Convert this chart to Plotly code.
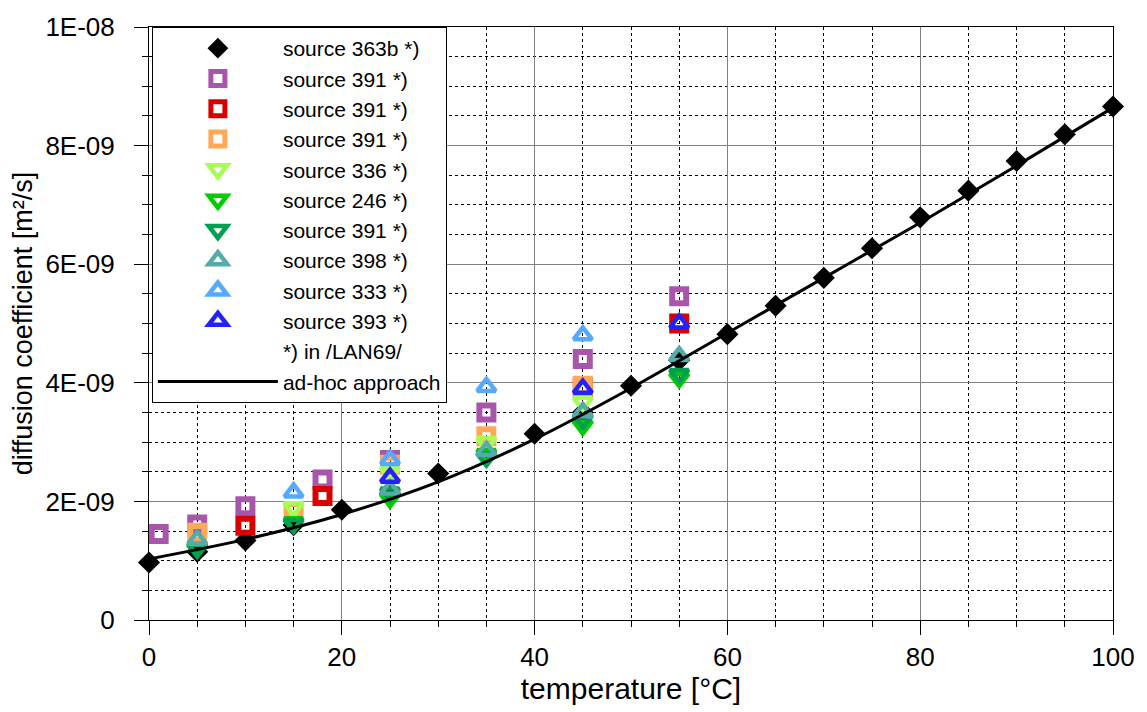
import plotly.graph_objects as go

# temperatures [°C] and diffusion coefficients in units of 1E-09 m²/s
t_363b = [0, 5, 10, 15, 20, 25, 30, 35, 40, 45, 50, 55, 60, 65, 70, 75, 80, 85, 90, 95, 100]
d_363b = [0.97, 1.15, 1.34, 1.60, 1.86, 2.13, 2.47, 2.80, 3.14, 3.50, 3.95, 4.38, 4.82,
          5.30, 5.77, 6.27, 6.79, 7.24, 7.74, 8.19, 8.66]

t_391a = [1, 5, 10, 18, 25, 35, 45, 55]
d_391a = [1.45, 1.61, 1.92, 2.37, 2.70, 3.50, 4.40, 5.46]

t_391b = [10, 18, 45, 55]
d_391b = [1.59, 2.09, 3.92, 5.00]

t_391c = [5, 15, 25, 35, 45]
d_391c = [1.47, 1.84, 2.62, 3.10, 3.95]

t_336 = [15, 25, 35, 45]
d_336 = [1.90, 2.50, 3.00, 3.68]

t_246 = [5, 15, 25, 35, 45, 55]
d_246 = [1.22, 1.65, 2.05, 2.80, 3.28, 4.08]

t_391d = [5, 15, 25, 35, 45, 55]
d_391d = [1.20, 1.62, 2.15, 2.74, 3.38, 4.15]

t_398 = [5, 25, 35, 45, 55]
d_398 = [1.35, 2.20, 2.85, 3.50, 4.45]

t_333 = [15, 25, 35, 45]
d_333 = [2.15, 2.70, 3.93, 4.80]

t_393 = [25, 45, 55]
d_393 = [2.40, 3.90, 5.00]

t_adhoc = [0, 10, 20, 30, 40, 50, 60, 70, 80, 90, 100]
d_adhoc = [1.03, 1.36, 1.78, 2.33, 3.05, 3.91, 4.84, 5.77, 6.70, 7.66, 8.64]

y_tickvals = [0, 2, 4, 6, 8, 10]
y_ticktext = ["0", "2E-09", "4E-09", "6E-09", "8E-09", "1E-08"]
x_tickvals = [0, 20, 40, 60, 80, 100]

FONT = "Arial, Liberation Sans, sans-serif"

fig = go.Figure()

# black diamonds at the bottom
fig.add_trace(go.Scatter(x=t_363b, y=d_363b, mode="markers", name="source 363b *)",
                         legendrank=1, cliponaxis=False,
                         marker=dict(symbol="diamond", size=17, color="black")))

open_series = [
    (t_391a, d_391a, "source 391 *)", "square-open", "#A855AC", 2),
    (t_391b, d_391b, "source 391 *)", "square-open", "#D90000", 3),
    (t_391c, d_391c, "source 391 *)", "square-open", "#FFA858", 4),
    (t_336, d_336, "source 336 *)", "triangle-down-open", "#A6FF50", 5),
    (t_246, d_246, "source 246 *)", "triangle-down-open", "#00CC00", 6),
    (t_391d, d_391d, "source 391 *)", "triangle-down-open", "#00A050", 7),
    (t_398, d_398, "source 398 *)", "triangle-up-open", "#55AAAA", 8),
    (t_333, d_333, "source 333 *)", "triangle-up-open", "#55AAFF", 9),
    (t_393, d_393, "source 393 *)", "triangle-up-open", "#2222FF", 10),
]
for tx, dy, nm, sym, col, rk in open_series:
    if sym.startswith("square"):
        size, lw = 14, 6
    else:
        size, lw = 16, 4.5
    fig.add_trace(go.Scatter(x=tx, y=dy, mode="markers", name=nm, legendrank=rk,
                             cliponaxis=False,
                             marker=dict(symbol=sym, size=size, color=col,
                                         line=dict(width=lw, color=col))))

fig.add_trace(go.Scatter(x=[None], y=[None], mode="markers", name="*) in /LAN69/",
                         legendrank=11,
                         marker=dict(color="rgba(0,0,0,0)", size=1)))

fig.add_trace(go.Scatter(x=t_adhoc, y=d_adhoc, mode="lines", name="ad-hoc approach",
                         legendrank=12, line=dict(color="black", width=3, shape="spline")))

fig.update_layout(
    width=1147, height=712,
    margin=dict(l=149, r=33, t=22, b=92),
    paper_bgcolor="white", plot_bgcolor="white",
    font=dict(family=FONT, color="black", size=22),
    showlegend=True,
    legend=dict(x=0.003, y=1, xanchor="left", yanchor="top",
                bgcolor="white", bordercolor="black", borderwidth=1,
                font=dict(size=21, family=FONT), itemwidth=120,
                tracegroupgap=0),
)

fig.update_xaxes(
    range=[0, 100], tickvals=x_tickvals,
    showline=True, linecolor="black", linewidth=1, mirror=True,
    ticks="outside", ticklen=14, tickcolor="black",
    showgrid=True, gridcolor="#808080", gridwidth=1,
    zeroline=False,
    tickfont=dict(size=26, family=FONT),
    title=dict(text="temperature [°C]", font=dict(size=30, family=FONT), standoff=6),
    minor=dict(dtick=5, ticks="outside", ticklen=6, tickcolor="black",
               showgrid=True, gridcolor="black", griddash="dot", gridwidth=1),
)
fig.update_yaxes(
    range=[0, 10], tickvals=y_tickvals, ticktext=y_ticktext,
    showline=True, linecolor="black", linewidth=1, mirror=True,
    ticks="outside", ticklen=14, tickcolor="black",
    showgrid=True, gridcolor="#808080", gridwidth=1,
    zeroline=False,
    ticklabelstandoff=14,
    tickfont=dict(size=26, family=FONT),
    title=dict(text="diffusion coefficient [m²/s]", font=dict(size=27, family=FONT), standoff=4),
    minor=dict(dtick=0.5, ticks="outside", ticklen=6, tickcolor="black",
               showgrid=True, gridcolor="black", griddash="dot", gridwidth=1),
)

fig.write_html("out.html")
